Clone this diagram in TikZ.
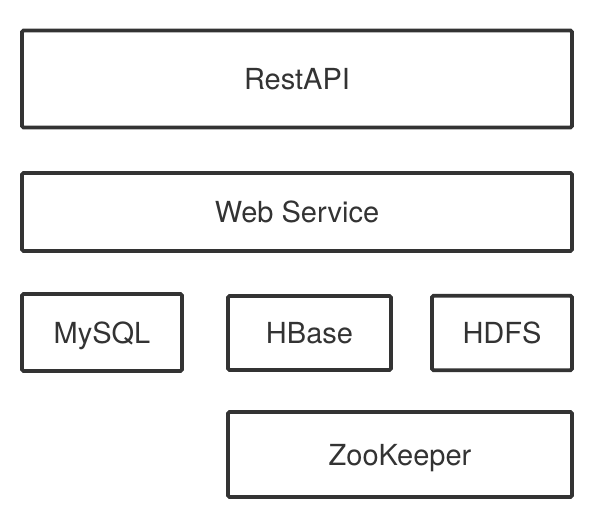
\documentclass[tikz,border=0pt]{standalone}
\usepackage{fontspec}
\setmainfont{TeX Gyre Heros}
\usepackage{tikz}

\definecolor{linegray}{HTML}{333333}

\begin{document}
\begin{tikzpicture}[x=1pt, y=-1pt, font=\fontsize{29}{33}\selectfont,
    layer/.style={draw=linegray, line width=3.8pt, rounded corners=1.5pt,
        text=linegray, inner sep=0pt, outer sep=0pt,
        text height=21pt, text depth=0pt}]

    \useasboundingbox (0,0) rectangle (600,528);

    % Define layers
    \node[layer, minimum width=550pt, minimum height=97pt] (rest) at (297,79) {RestAPI};
    \node[layer, minimum width=550pt, minimum height=78pt] (web) at (297,212) {Web Service};

    % Storage
    \node[layer, minimum width=160pt, minimum height=77pt] (mysql) at (102,332.5) {MySQL};
    \node[layer, minimum width=163pt, minimum height=74pt] (hbase) at (309.5,333) {HBase};
    \node[layer, minimum width=140pt, minimum height=74.5pt] (hdfs) at (502,333) {HDFS};

    % Coordination
    \node[layer, minimum width=344pt, minimum height=85pt] (zk) at (400,454.5) {ZooKeeper};

\end{tikzpicture}
\end{document}
